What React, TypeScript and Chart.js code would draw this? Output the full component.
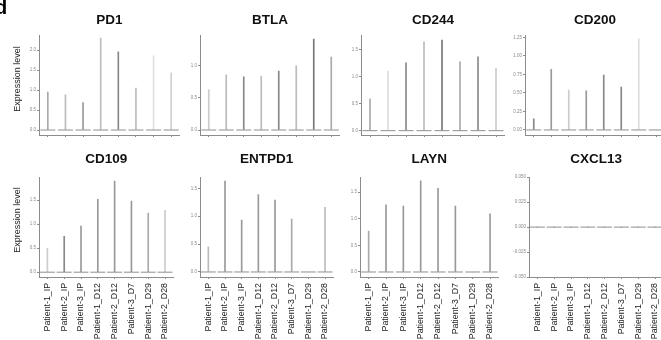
import React, { useEffect, useRef } from 'react';
import { Chart, registerables } from 'chart.js';

Chart.register(...registerables);
Chart.defaults.font.family = '"Liberation Sans", Arial, sans-serif';

// ---------- data ----------
const CATEGORIES = [
  'Patient-1_IP',
  'Patient-2_IP',
  'Patient-3_IP',
  'Patient-1_D12',
  'Patient-2_D12',
  'Patient-3_D7',
  'Patient-1_D29',
  'Patient-2_D28',
];

const BASELINE = 0;

const PD1 = [0.95, 0.88, 0.69, 2.3, 1.96, 1.05, 1.86, 1.43];
const BTLA = [0.63, 0.86, 0.83, 0.84, 0.92, 1.0, 1.42, 1.14];
const CD244 = [0.58, 1.1, 1.25, 1.64, 1.67, 1.27, 1.36, 1.15];
const CD200 = [0.15, 0.82, 0.54, 0.53, 0.74, 0.58, 1.23, 0];
const CD109 = [0.5, 0.75, 0.96, 1.52, 1.9, 1.48, 1.23, 1.29];
const ENTPD1 = [0.45, 1.63, 0.93, 1.39, 1.29, 0.95, 0, 1.16];
const LAYN = [0.77, 1.26, 1.24, 1.71, 1.57, 1.24, 0, 1.09];
const CXCL13 = [0, 0, 0, 0, 0, 0, 0, 0];

const TICKS_PD1 = [0, 0.5, 1, 1.5, 2];
const TICKS_BTLA = [0, 0.5, 1];
const TICKS_CD244 = [0, 0.5, 1, 1.5];
const TICKS_CD200 = [0, 0.25, 0.5, 0.75, 1, 1.25];
const TICKS_CD109 = [0, 0.5, 1, 1.5];
const TICKS_ENTPD1 = [0, 0.5, 1, 1.5];
const TICKS_LAYN = [0, 0.5, 1, 1.5];
const TICKS_CXCL13 = [-0.05, -0.025, 0, 0.025, 0.05];

const RANGE_PD1 = [-0.125, 2.375];
const RANGE_BTLA = [-0.078, 1.48];
const RANGE_CD244 = [-0.08, 1.76];
const RANGE_CD200 = [-0.068, 1.28];
const RANGE_CD109 = [-0.1, 1.98];
const RANGE_ENTPD1 = [-0.09, 1.7];
const RANGE_LAYN = [-0.094, 1.78];
const RANGE_CXCL13 = [-0.05, 0.05];

// ---------- styles ----------
const COLORS_PD1 = ['#aaa', '#bbb', '#999', '#bdbdbd', '#888', '#bbb', '#e0e0e0', '#d0d0d0'];
const COLORS_BTLA = ['#ccc', '#bbb', '#888', '#bbb', '#888', '#bbb', '#777', '#aaa'];
const COLORS_CD244 = ['#aaa', '#ddd', '#888', '#bbb', '#777', '#aaa', '#888', '#ccc'];
const COLORS_CD200 = ['#888', '#999', '#ccc', '#999', '#888', '#888', '#ddd', '#ccc'];
const COLORS_CD109 = ['#ccc', '#888', '#999', '#999', '#999', '#999', '#aaa', '#ccc'];
const COLORS_ENTPD1 = ['#bbb', '#999', '#999', '#999', '#999', '#aaa', '#ccc', '#bbb'];
const COLORS_LAYN = ['#aaa', '#999', '#999', '#999', '#999', '#999', '#ccc', '#999'];
const COLORS_CXCL13 = ['#999', '#999', '#999', '#999', '#999', '#999', '#999', '#999'];

const AXIS_COLOR = '#8c8c8c';

type PanelDef = {
  gene: string;
  values: number[];
  colors: string[];
  range: number[];
  ticks: number[];
  decimals: number;
  showX: boolean;
  x: number;
  y: number;
  w: number;
  h: number;
  yW: number;
};

const TOP = { y: 0, h: 140, padTop: 12.5, padBottom: 6.5, xH: 5 };
const BOT = { y: 140, h: 200, padTop: 11.5, padBottom: 9.5, xH: 63 };

const PANELS: PanelDef[] = [
  { gene: 'PD1', values: PD1, colors: COLORS_PD1, range: RANGE_PD1, ticks: TICKS_PD1, decimals: 1, showX: false, x: 0, y: TOP.y, w: 180, h: TOP.h, yW: 39 },
  { gene: 'BTLA', values: BTLA, colors: COLORS_BTLA, range: RANGE_BTLA, ticks: TICKS_BTLA, decimals: 1, showX: false, x: 160, y: TOP.y, w: 180, h: TOP.h, yW: 40 },
  { gene: 'CD244', values: CD244, colors: COLORS_CD244, range: RANGE_CD244, ticks: TICKS_CD244, decimals: 1, showX: false, x: 321, y: TOP.y, w: 184, h: TOP.h, yW: 40 },
  { gene: 'CD200', values: CD200, colors: COLORS_CD200, range: RANGE_CD200, ticks: TICKS_CD200, decimals: 2, showX: false, x: 485, y: TOP.y, w: 180, h: TOP.h, yW: 40 },
  { gene: 'CD109', values: CD109, colors: COLORS_CD109, range: RANGE_CD109, ticks: TICKS_CD109, decimals: 1, showX: true, x: 0, y: BOT.y, w: 180, h: BOT.h, yW: 39 },
  { gene: 'ENTPD1', values: ENTPD1, colors: COLORS_ENTPD1, range: RANGE_ENTPD1, ticks: TICKS_ENTPD1, decimals: 1, showX: true, x: 160, y: BOT.y, w: 180, h: BOT.h, yW: 40 },
  { gene: 'LAYN', values: LAYN, colors: COLORS_LAYN, range: RANGE_LAYN, ticks: TICKS_LAYN, decimals: 1, showX: true, x: 320, y: BOT.y, w: 185, h: BOT.h, yW: 40 },
  { gene: 'CXCL13', values: CXCL13, colors: COLORS_CXCL13, range: RANGE_CXCL13, ticks: TICKS_CXCL13, decimals: 3, showX: true, x: 485, y: BOT.y, w: 185, h: BOT.h, yW: 44 },
];

function Panel({ p }: { p: PanelDef }) {
  const ref = useRef<HTMLCanvasElement>(null);
  useEffect(() => {
    const row = p.showX ? BOT : TOP;
    const chart = new Chart(ref.current as HTMLCanvasElement, {
      type: 'bar',
      data: {
        labels: CATEGORIES,
        datasets: [
          {
            type: 'line',
            data: CATEGORIES.map(() => BASELINE),
            showLine: false,
            pointStyle: 'line',
            pointRadius: 7.5,
            pointHoverRadius: 7.5,
            pointBorderWidth: 1,
            pointBorderColor: '#8f8f8f',
            borderColor: '#8f8f8f',
          } as any,
          {
            type: 'bar',
            data: p.values,
            backgroundColor: p.colors,
            borderWidth: 0,
            barThickness: 1,
          } as any,
        ],
      },
      options: {
        responsive: false,
        maintainAspectRatio: false,
        animation: false,
        events: [],
        layout: { padding: 0, autoPadding: false } as any,
        plugins: {
          legend: { display: false },
          tooltip: { enabled: false },
          title: {
            display: true,
            text: p.gene,
            fullSize: false,
            color: '#111',
            font: { size: 13.5, weight: 'bold' },
            padding: { top: row.padTop, bottom: row.padBottom },
          },
        },
        scales: {
          x: {
            type: 'category',
            offset: true,
            border: { display: true, color: AXIS_COLOR, width: 1 },
            grid: {
              display: true,
              drawOnChartArea: false,
              drawTicks: true,
              tickLength: 2,
              color: AXIS_COLOR,
              offset: false,
            },
            ticks: {
              display: p.showX,
              autoSkip: false,
              maxRotation: 90,
              minRotation: 90,
              padding: 4,
              color: '#222',
              font: { size: 8.8 },
            },
            afterFit: (s: any) => {
              s.height = row.xH;
            },
          },
          y: {
            type: 'linear',
            min: p.range[0],
            max: p.range[1],
            border: { display: true, color: AXIS_COLOR, width: 1 },
            grid: {
              display: true,
              drawOnChartArea: false,
              drawTicks: true,
              tickLength: 2,
              color: AXIS_COLOR,
            },
            ticks: {
              padding: 1,
              color: '#8a8a8a',
              font: { size: 4.5 },
              callback: (v: any) => Number(v).toFixed(p.decimals),
            },
            afterBuildTicks: (s: any) => {
              s.ticks = p.ticks.map((v) => ({ value: v }));
            },
            afterFit: (s: any) => {
              s.width = p.yW;
            },
          },
        },
      } as any,
    });
    return () => chart.destroy();
  }, [p]);
  return (
    <canvas
      ref={ref}
      width={p.w}
      height={p.h}
      style={{ position: 'absolute', left: p.x, top: p.y, width: p.w, height: p.h }}
    />
  );
}

const yTitleStyle = (cy: number): React.CSSProperties => ({
  position: 'absolute',
  left: 17,
  top: cy,
  transform: 'translate(-50%, -50%) rotate(-90deg)',
  whiteSpace: 'nowrap',
  fontFamily: '"Liberation Sans", Arial, sans-serif',
  fontSize: 9,
  color: '#222',
  lineHeight: 1,
});

export default function App() {
  return (
    <div
      style={{
        position: 'fixed',
        left: 0,
        top: 0,
        width: 661,
        height: 340,
        overflow: 'hidden',
        background: '#fff',
      }}
    >
      {PANELS.map((p) => (
        <Panel key={p.gene} p={p} />
      ))}
      <div
        style={{
          position: 'absolute',
          left: -5,
          top: -3,
          fontFamily: '"Liberation Sans", Arial, sans-serif',
          fontWeight: 'bold',
          fontSize: 20,
          lineHeight: 1,
          color: '#000',
        }}
      >
        d
      </div>
      <div style={yTitleStyle(79)}>Expression level</div>
      <div style={yTitleStyle(220)}>Expression level</div>
    </div>
  );
}
